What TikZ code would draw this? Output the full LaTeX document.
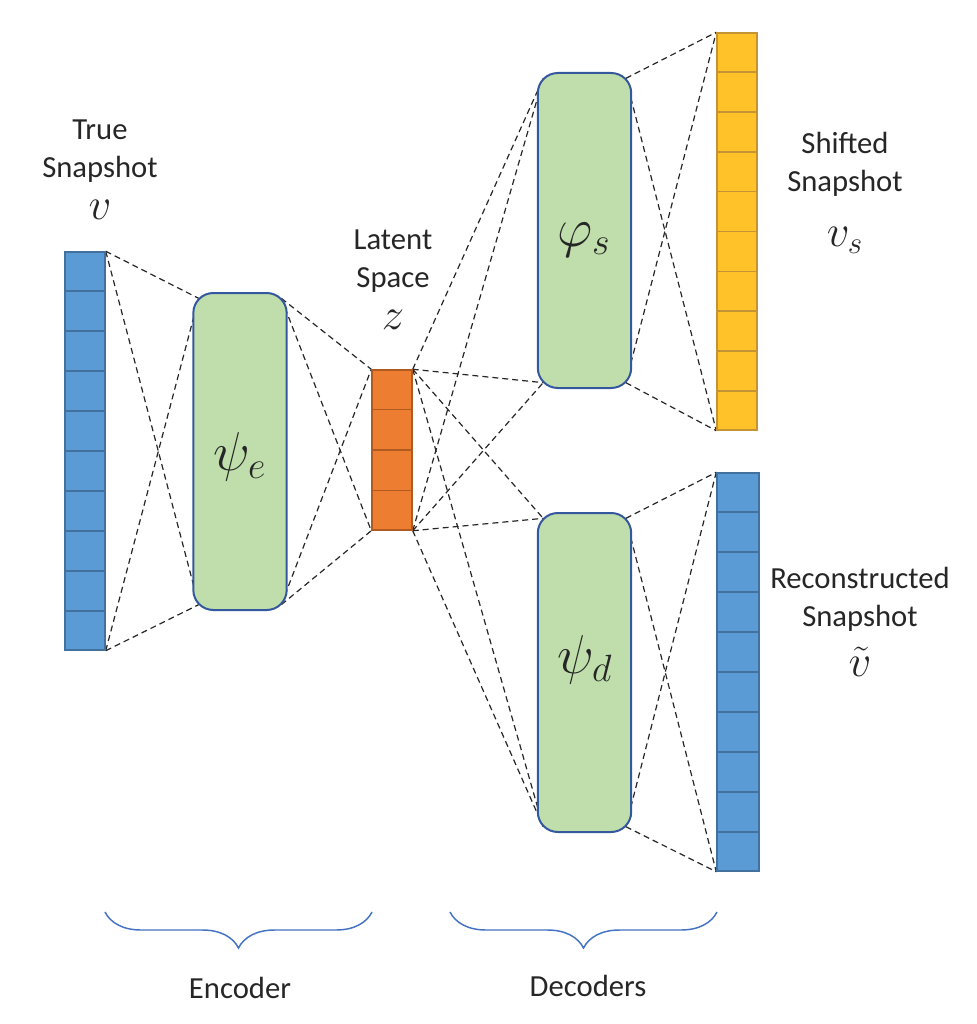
\documentclass[tikz,border=0pt]{standalone}
\usepackage{amsmath}
\usepackage{fontspec}
\setmainfont{Carlito}
\usetikzlibrary{positioning,calc,backgrounds,decorations.pathreplacing}
\definecolor{snapBlue}{RGB}{91,155,213}
\definecolor{snapEdge}{RGB}{65,113,156}
\definecolor{latentOrange}{RGB}{237,125,49}
\definecolor{latentEdge}{RGB}{174,90,33}
\definecolor{shiftYellow}{RGB}{255,194,40}
\definecolor{shiftEdge}{RGB}{196,148,52}
\definecolor{netGreen}{RGB}{192,222,172}
\definecolor{netEdge}{RGB}{52,88,158}
\definecolor{braceBlue}{RGB}{68,114,196}
\definecolor{textGray}{RGB}{38,38,38}

\tikzset{
  snapbar/.style={draw=snapEdge, fill=snapBlue, line width=1.1pt, minimum width=30pt, inner sep=0pt},
  latentbar/.style={snapbar, draw=latentEdge, fill=latentOrange},
  shiftbar/.style={snapbar, draw=shiftEdge, fill=shiftYellow},
  netbox/.style={draw=netEdge, fill=netGreen, line width=1.5pt, rounded corners=15pt,
    minimum width=70pt, inner sep=0pt, outer sep=-4pt},
  link/.style={dashed, dash pattern=on 4.5pt off 3pt, line width=0.9pt, black!85},
  lbl/.style={font=\fontsize{23}{28.5}\selectfont, align=center, text=textGray, inner sep=1pt},
  mathlbl/.style={font=\fontsize{24}{26}\selectfont, scale=1.35, text=textGray, inner sep=0pt},
  netlbl/.style={font=\fontsize{24}{26}\selectfont, scale=1.65, text=textGray, inner sep=0pt},
  curly/.style={decorate, decoration={brace, mirror, amplitude=27pt, aspect=0.5},
    draw=braceBlue, line width=1.1pt}
}

\begin{document}
\begin{tikzpicture}[x=0.75pt, y=-0.75pt]
  \useasboundingbox (0,0) rectangle (976,1024);

  % snapshots and latent vector
  \node[snapbar, minimum height=298.5pt] (vin) at (85,451) {};
  \node[latentbar, minimum height=120pt] (lat) at (392,450) {};
  \node[shiftbar, minimum height=297.75pt] (vs) at (737,231.5) {};
  \node[snapbar, minimum height=298.5pt, minimum width=31.5pt] (vrec) at (738,672) {};

  % cells of the bars
  \foreach \b/\c in {vin/snapEdge, vs/shiftEdge, vrec/snapEdge}
    \foreach \i in {1,...,9}
      \draw[\c, line width=1.1pt] ($(\b.north west)!\i/10!(\b.south west)$) -- ($(\b.north east)!\i/10!(\b.south east)$);
  \foreach \i in {1,2,3}
    \draw[latentEdge, line width=1.1pt] ($(lat.north west)!\i/4!(lat.south west)$) -- ($(lat.north east)!\i/4!(lat.south east)$);

  % networks
  \node[netbox, minimum height=237.75pt] (enc) at (240,451.5) {};
  \node[netbox, minimum height=236.25pt] (phis) at (584.5,230.5) {};
  \node[netbox, minimum height=239.25pt] (psid) at (584.5,672.5) {};
  \node[netlbl] (enclbl) at (240,457) {$\psi_e$};
  \node[netlbl] (phislbl) at (584,240) {$\varphi_s$};
  \node[netlbl] (psidlbl) at (585,660) {$\psi_d$};

  % dashed connections
  \begin{scope}[on background layer]
    \foreach \s in {vin.north east, vin.south east}
      \foreach \t in {enc.north west, enc.south west}
        \draw[link] (\s) -- (\t);
    \foreach \s in {enc.north east, enc.south east}
      \foreach \t in {lat.north west, lat.south west}
        \draw[link] (\s) -- (\t);
    \foreach \s in {lat.north east, lat.south east}
      \foreach \t in {phis.north west, phis.south west, psid.north west, psid.south west}
        \draw[link] (\s) -- (\t);
    \foreach \s in {phis.north east, phis.south east}
      \foreach \t in {vs.north west, vs.south west}
        \draw[link] (\s) -- (\t);
    \foreach \s in {psid.north east, psid.south east}
      \foreach \t in {vrec.north west, vrec.south west}
        \draw[link] (\s) -- (\t);
  \end{scope}

  % labels
  \node[lbl] (vinlbl) at (100,151) {True\\Snapshot};
  \node[mathlbl] (vinsym) at (100,210) {$v$};
  \node[lbl] (latlbl) at (393,261) {Latent\\Space};
  \node[mathlbl] (latsym) at (393,320) {$z$};
  \node[lbl] (vslbl) at (845,164) {Shifted\\Snapshot};
  \node[mathlbl] (vssym) at (845,240) {$v_s$};
  \node[lbl] (vreclbl) at (860,599) {Reconstructed\\Snapshot};
  \node[mathlbl] (vrecsym) at (860,662) {$\tilde{v}$};

  % braces
  \coordinate (encL) at (105,912);
  \coordinate (encR) at (372,912);
  \coordinate (decL) at (450,912);
  \coordinate (decR) at (717,912);
  \draw[curly] (encL) -- (encR);
  \draw[curly] (decL) -- (decR);
  \node[lbl] (enctxt) at (240,988) {Encoder};
  \node[lbl] (dectxt) at (588,986) {Decoders};
\end{tikzpicture}
\end{document}
